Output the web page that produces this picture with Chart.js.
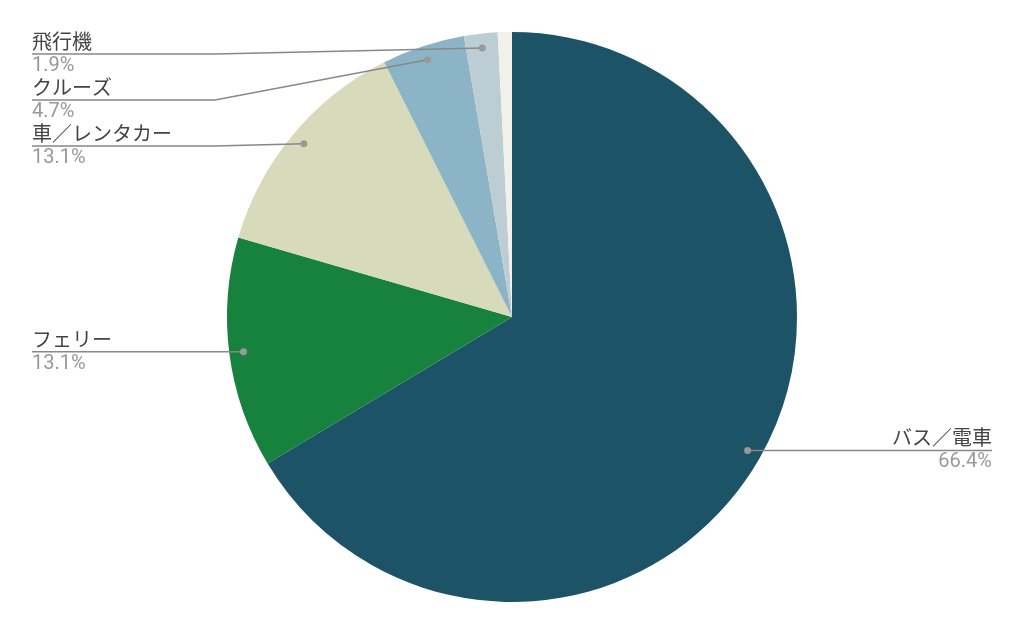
<!DOCTYPE html>
<html>
<head>
<meta charset="utf-8">
<script src="https://cdn.jsdelivr.net/npm/chart.js@4.4.0/dist/chart.umd.min.js"></script>
<style>
  html, body { margin: 0; padding: 0; background: #fff; }
  #wrap { width: 1024px; height: 632px; }
</style>
</head>
<body>
<div id="wrap"><canvas id="pieChart" width="1024" height="632"></canvas></div>
<script>
// 交通手段の割合
const categories = ['バス／電車', 'フェリー', '車／レンタカー', 'クルーズ', '飛行機', 'その他'];
const shares = [66.4, 13.1, 13.1, 4.7, 1.9, 0.8];
const showLabel = [true, true, true, true, true, false];
const sliceColors = ['#1c5367', '#17823e', '#d8dabc', '#8bb4c6', '#bdcdd4', '#f1f1ea'];

const FONT = "Roboto, 'Noto Sans CJK JP', sans-serif";

// leader lines + labels, placed from the arc elements
const leaderLabels = {
    id: 'leaderLabels',
    afterDatasetsDraw(chart) {
        const ctx = chart.ctx;
        const meta = chart.getDatasetMeta(0);
        const left = [], right = [];
        meta.data.forEach((arc, i) => {
            if (!showLabel[i]) return;
            const p = arc.getProps(['x', 'y', 'startAngle', 'endAngle', 'outerRadius'], true);
            const mid = (p.startAngle + p.endAngle) / 2;
            const r = p.outerRadius * 0.95;
            const dx = p.x + Math.cos(mid) * r;
            const dy = p.y + Math.sin(mid) * r;
            const item = { i, dx, dy, ly: dy };
            (Math.cos(mid) >= 0 ? right : left).push(item);
        });

        // avoid overlaps on the left column
        left.sort((a, b) => a.dy - b.dy);
        let prev = -Infinity;
        left.forEach(it => {
            it.ly = Math.max(it.dy, 54, prev + 46);
            prev = it.ly;
        });

        ctx.save();
        ctx.strokeStyle = '#888';
        ctx.lineWidth = 1.5;
        const drawOne = (it, side) => {
            ctx.beginPath();
            if (side === 'left') {
                ctx.moveTo(32, it.ly);
                ctx.lineTo(215, it.ly);
                ctx.lineTo(it.dx, it.dy);
            } else {
                ctx.moveTo(it.dx, it.dy);
                ctx.lineTo(992, it.ly);
            }
            ctx.stroke();
            ctx.fillStyle = '#999';
            ctx.beginPath();
            ctx.arc(it.dx, it.dy, 3.5, 0, Math.PI * 2);
            ctx.fill();

            const tx = side === 'left' ? 32 : 992;
            ctx.textAlign = side === 'left' ? 'left' : 'right';
            ctx.font = '20px ' + FONT;
            ctx.fillStyle = '#444';
            ctx.textBaseline = 'alphabetic';
            ctx.fillText(categories[it.i], tx, it.ly - 5);
            ctx.font = '20px ' + FONT;
            ctx.fillStyle = '#999';
            ctx.textBaseline = 'top';
            ctx.fillText(shares[it.i].toFixed(1) + '%', tx, it.ly + 2);
        };
        left.forEach(it => drawOne(it, 'left'));
        right.forEach(it => drawOne(it, 'right'));
        ctx.restore();
    }
};

const pieCtx = document.getElementById('pieChart').getContext('2d');
const pieChart = new Chart(pieCtx, {
    type: 'pie',
    data: {
        labels: categories,
        datasets: [{
            data: shares,
            backgroundColor: sliceColors,
            borderWidth: 0
        }]
    },
    options: {
        responsive: false,
        animation: false,
        layout: {
            padding: { top: 32, bottom: 30, left: 0, right: 0 }
        },
        plugins: {
            legend: { display: false },
            tooltip: { enabled: false }
        }
    },
    plugins: [leaderLabels]
});
</script>
</body>
</html>
